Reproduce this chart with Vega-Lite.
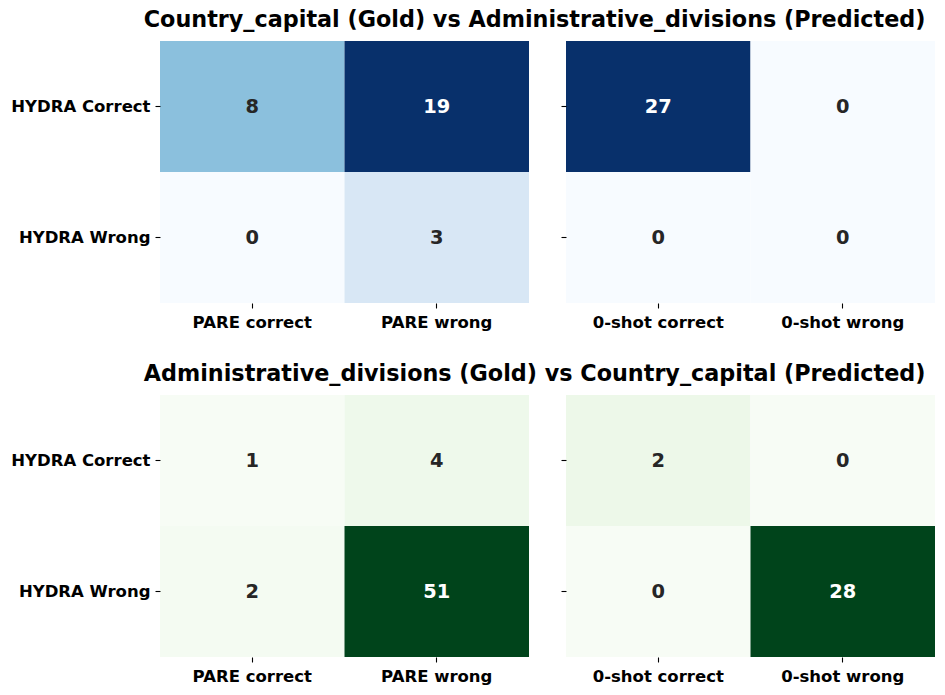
{
  "$schema": "https://vega.github.io/schema/vega-lite/v6.json",
  "background": "white",
  "padding": {"left": 10, "top": 8, "right": 5, "bottom": 5},
  "datasets": {
    "cells": [
      {"panel": "A", "row": "HYDRA Correct", "col": "PARE correct", "v": 8},
      {"panel": "A", "row": "HYDRA Correct", "col": "PARE wrong", "v": 19},
      {"panel": "A", "row": "HYDRA Wrong", "col": "PARE correct", "v": 0},
      {"panel": "A", "row": "HYDRA Wrong", "col": "PARE wrong", "v": 3},
      {"panel": "B", "row": "HYDRA Correct", "col": "0-shot correct", "v": 27},
      {"panel": "B", "row": "HYDRA Correct", "col": "0-shot wrong", "v": 0},
      {"panel": "B", "row": "HYDRA Wrong", "col": "0-shot correct", "v": 0},
      {"panel": "B", "row": "HYDRA Wrong", "col": "0-shot wrong", "v": 0},
      {"panel": "C", "row": "HYDRA Correct", "col": "PARE correct", "v": 1},
      {"panel": "C", "row": "HYDRA Correct", "col": "PARE wrong", "v": 4},
      {"panel": "C", "row": "HYDRA Wrong", "col": "PARE correct", "v": 2},
      {"panel": "C", "row": "HYDRA Wrong", "col": "PARE wrong", "v": 51},
      {"panel": "D", "row": "HYDRA Correct", "col": "0-shot correct", "v": 2},
      {"panel": "D", "row": "HYDRA Correct", "col": "0-shot wrong", "v": 0},
      {"panel": "D", "row": "HYDRA Wrong", "col": "0-shot correct", "v": 0},
      {"panel": "D", "row": "HYDRA Wrong", "col": "0-shot wrong", "v": 28}
    ]
  },
  "data": {"name": "cells"},
  "spacing": 31,
  "resolve": {"scale": {"color": "independent", "x": "independent", "y": "independent"}},
  "vconcat": [
    {
      "title": {"text": "Country_capital (Gold) vs Administrative_divisions (Predicted)", "anchor": "start", "dx": 133},
      "spacing": 31,
      "resolve": {"scale": {"color": "independent", "x": "independent", "y": "independent"}},
      "hconcat": [
        {
          "width": 369, "height": 262,
          "transform": [{"filter": "datum.panel == 'A'"}, {"joinaggregate": [{"op": "max", "field": "v", "as": "mx"}]}],
          "encoding": {
            "x": {"field": "col", "type": "nominal", "sort": ["PARE correct", "PARE wrong"], "scale": {"paddingInner": 0, "paddingOuter": 0}, "axis": {"title": null}},
            "y": {"field": "row", "type": "nominal", "sort": ["HYDRA Correct", "HYDRA Wrong"], "scale": {"paddingInner": 0, "paddingOuter": 0}, "axis": {"title": null}}
          },
          "layer": [
            {"mark": {"type": "rect"}, "encoding": {"color": {"field": "v", "type": "quantitative", "scale": {"range": ["#f7fbff","#deebf7","#c6dbef","#9ecae1","#6baed6","#4292c6","#2171b5","#08519c","#08306b"]}, "legend": null}}},
            {"mark": {"type": "text", "fontSize": 19.4, "fontWeight": "bold", "font": "DejaVu Sans"}, "encoding": {"text": {"field": "v", "type": "quantitative"}, "color": {"condition": {"test": "datum.v >= 0.6 * datum.mx", "value": "white"}, "value": "#262626"}}}
          ]
        },
        {
          "width": 369, "height": 262,
          "transform": [{"filter": "datum.panel == 'B'"}, {"joinaggregate": [{"op": "max", "field": "v", "as": "mx"}]}],
          "encoding": {
            "x": {"field": "col", "type": "nominal", "sort": ["0-shot correct", "0-shot wrong"], "scale": {"paddingInner": 0, "paddingOuter": 0}, "axis": {"title": null}},
            "y": {"field": "row", "type": "nominal", "sort": ["HYDRA Correct", "HYDRA Wrong"], "scale": {"paddingInner": 0, "paddingOuter": 0}, "axis": {"title": null, "labels": false}}
          },
          "layer": [
            {"mark": {"type": "rect"}, "encoding": {"color": {"field": "v", "type": "quantitative", "scale": {"range": ["#f7fbff","#deebf7","#c6dbef","#9ecae1","#6baed6","#4292c6","#2171b5","#08519c","#08306b"]}, "legend": null}}},
            {"mark": {"type": "text", "fontSize": 19.4, "fontWeight": "bold", "font": "DejaVu Sans"}, "encoding": {"text": {"field": "v", "type": "quantitative"}, "color": {"condition": {"test": "datum.v >= 0.6 * datum.mx", "value": "white"}, "value": "#262626"}}}
          ]
        }
      ]
    },
    {
      "title": {"text": "Administrative_divisions (Gold) vs Country_capital (Predicted)", "anchor": "start", "dx": 133},
      "spacing": 31,
      "resolve": {"scale": {"color": "independent", "x": "independent", "y": "independent"}},
      "hconcat": [
        {
          "width": 369, "height": 262,
          "transform": [{"filter": "datum.panel == 'C'"}, {"joinaggregate": [{"op": "max", "field": "v", "as": "mx"}]}],
          "encoding": {
            "x": {"field": "col", "type": "nominal", "sort": ["PARE correct", "PARE wrong"], "scale": {"paddingInner": 0, "paddingOuter": 0}, "axis": {"title": null}},
            "y": {"field": "row", "type": "nominal", "sort": ["HYDRA Correct", "HYDRA Wrong"], "scale": {"paddingInner": 0, "paddingOuter": 0}, "axis": {"title": null}}
          },
          "layer": [
            {"mark": {"type": "rect"}, "encoding": {"color": {"field": "v", "type": "quantitative", "scale": {"range": ["#f7fcf5","#e5f5e0","#c7e9c0","#a1d99b","#74c476","#41ab5d","#238b45","#006d2c","#00441b"]}, "legend": null}}},
            {"mark": {"type": "text", "fontSize": 19.4, "fontWeight": "bold", "font": "DejaVu Sans"}, "encoding": {"text": {"field": "v", "type": "quantitative"}, "color": {"condition": {"test": "datum.v >= 0.6 * datum.mx", "value": "white"}, "value": "#262626"}}}
          ]
        },
        {
          "width": 369, "height": 262,
          "transform": [{"filter": "datum.panel == 'D'"}, {"joinaggregate": [{"op": "max", "field": "v", "as": "mx"}]}],
          "encoding": {
            "x": {"field": "col", "type": "nominal", "sort": ["0-shot correct", "0-shot wrong"], "scale": {"paddingInner": 0, "paddingOuter": 0}, "axis": {"title": null}},
            "y": {"field": "row", "type": "nominal", "sort": ["HYDRA Correct", "HYDRA Wrong"], "scale": {"paddingInner": 0, "paddingOuter": 0}, "axis": {"title": null, "labels": false}}
          },
          "layer": [
            {"mark": {"type": "rect"}, "encoding": {"color": {"field": "v", "type": "quantitative", "scale": {"range": ["#f7fcf5","#e5f5e0","#c7e9c0","#a1d99b","#74c476","#41ab5d","#238b45","#006d2c","#00441b"]}, "legend": null}}},
            {"mark": {"type": "text", "fontSize": 19.4, "fontWeight": "bold", "font": "DejaVu Sans"}, "encoding": {"text": {"field": "v", "type": "quantitative"}, "color": {"condition": {"test": "datum.v >= 0.6 * datum.mx", "value": "white"}, "value": "#262626"}}}
          ]
        }
      ]
    }
  ],
  "config": {
    "font": "DejaVu Sans",
    "view": {"stroke": null},
    "axis": {
      "domain": false, "grid": false,
      "labelFont": "DejaVu Sans", "labelFontSize": 16.5, "labelFontWeight": "bold", "labelColor": "black",
      "tickColor": "black", "tickSize": 5, "tickWidth": 1.1, "labelPadding": 3
    },
    "axisX": {"labelAngle": 0, "labelPadding": 6},
    "axisY": {"labelPadding": 5},
    "title": {"font": "DejaVu Sans", "fontSize": 22.3, "fontWeight": "bold", "color": "black", "offset": 10}
  }
}
